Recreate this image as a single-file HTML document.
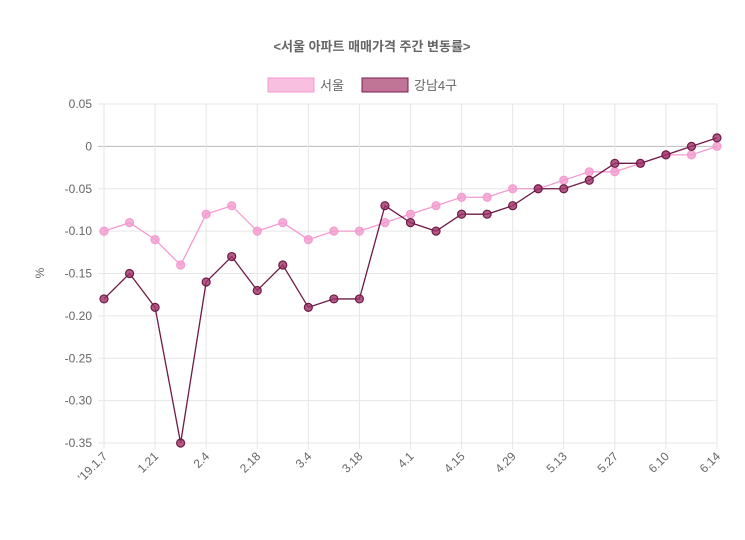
<!DOCTYPE html>
<html><head><meta charset="utf-8"><style>
body{margin:0;background:#fff;}
svg text{font-family:"Liberation Sans","Noto Sans CJK KR",sans-serif;}
</style></head><body>
<svg width="745" height="535" id="c">
<text x="372" y="51" text-anchor="middle" font-size="13" font-weight="bold" fill="#666">&lt;서울 아파트 매매가격 주간 변동률&gt;</text>
<g>
<g><rect x="268" y="78" width="46" height="14" fill="#f9bfe0" stroke="#f39bcf" stroke-width="1"/><text x="320" y="90" font-size="13" fill="#666">서울</text></g>
<g><rect x="362" y="78" width="46" height="14" fill="#c07597" stroke="#7a1f4e" stroke-width="1"/><text x="414" y="90" font-size="13" fill="#666">강남4구</text></g>
</g>
<text transform="translate(44,273) rotate(-90)" text-anchor="middle" font-size="12" fill="#666">%</text>
<g id="grid"></g><g id="series"></g>
</svg>
<script>
const categories=["'19.1.7","1.14","1.21","1.28","2.4","2.11","2.18","2.25","3.4","3.11","3.18","3.25","4.1","4.8","4.15","4.22","4.29","5.6","5.13","5.20","5.27","6.3","6.10","6.11","6.14"];
const seoul=[-0.10,-0.09,-0.11,-0.14,-0.08,-0.07,-0.10,-0.09,-0.11,-0.10,-0.10,-0.09,-0.08,-0.07,-0.06,-0.06,-0.05,-0.05,-0.04,-0.03,-0.03,-0.02,-0.01,-0.01,0.00];
const gangnam=[-0.18,-0.15,-0.19,-0.35,-0.16,-0.13,-0.17,-0.14,-0.19,-0.18,-0.18,-0.07,-0.09,-0.10,-0.08,-0.08,-0.07,-0.05,-0.05,-0.04,-0.02,-0.02,-0.01,0.00,0.01];
const yTicks=[0.05,0,-0.05,-0.10,-0.15,-0.20,-0.25,-0.30,-0.35];
const yTickLabels=["0.05","0","-0.05","-0.10","-0.15","-0.20","-0.25","-0.30","-0.35"];
const X0=104,X1=717,Y0=104,Y1=443,ymax=0.05,ymin=-0.35;
const xs=i=>X0+(X1-X0)*i/(categories.length-1);
const ys=v=>Y0+(ymax-v)/(ymax-ymin)*(Y1-Y0);
const NS="http://www.w3.org/2000/svg";
const g=document.getElementById('grid'),s=document.getElementById('series');
function mk(tag,at,par){const e=document.createElementNS(NS,tag);for(const k in at)e.setAttribute(k,at[k]);par.appendChild(e);return e;}
yTicks.forEach((v,i)=>{
 const l=mk('line',{x1:X0-6,x2:X1,y1:ys(v),y2:ys(v),stroke:v===0?'#bbb':'#e6e6e6','stroke-width':1},g);
 
 
 const t=mk('text',{x:X0-12,y:ys(v)+4,'text-anchor':'end','font-size':12,fill:'#666'},g);
 t.textContent=yTickLabels[i];
 
 
});
categories.forEach((c,i)=>{
 if(i%2)return;
 const x=xs(i);
 const l=mk('line',{x1:x,x2:x,y1:Y0,y2:Y1+6,stroke:'#e6e6e6','stroke-width':1},g);
 
 
 const t=mk('text',{x:x+4,y:Y1+14,'text-anchor':'end','font-size':12,fill:'#666',transform:`rotate(-45 ${x+4} ${Y1+14})`},g);
 t.textContent=c;
 
 
});
function draw(data,stroke,fill,name){
 const p=mk('polyline',{points:data.map((v,i)=>xs(i)+','+ys(v)).join(' '),fill:'none',stroke:stroke,'stroke-width':1.3},s);
 
 
 data.forEach((v,i)=>{
  const c=mk('circle',{cx:xs(i),cy:ys(v),r:4,fill:fill,stroke:stroke,'stroke-width':1.2},s);
  
  
 });
}
draw(seoul,'#f39bcf','rgba(243,155,207,0.8)','seoul');
draw(gangnam,'#6e1a45','rgba(160,50,105,0.8)','gangnam');
</script>
</body></html>
